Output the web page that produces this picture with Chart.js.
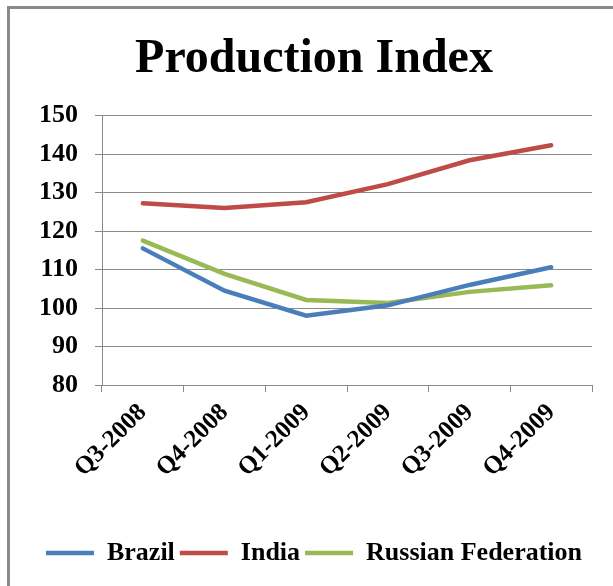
<!DOCTYPE html>
<html>
<head>
<meta charset="utf-8">
<script src="https://cdn.jsdelivr.net/npm/chart.js@4"></script>
<style>
  html, body { margin: 0; padding: 0; background: #fff; }
  #wrap { position: relative; width: 613px; height: 586px; overflow: hidden; }
  #frame { position: absolute; left: 7px; top: 6px; width: 700px; height: 700px;
           border-left: 3px solid #8a8a8a; border-top: 3px solid #8a8a8a; }
  #chart { position: absolute; left: 0; top: 0; }
</style>
</head>
<body>
<div id="wrap">
  <div id="frame"></div>
  <canvas id="chart" width="613" height="586"></canvas>
</div>
<script>
const quarters = ['Q3-2008', 'Q4-2008', 'Q1-2009', 'Q2-2009', 'Q3-2009', 'Q4-2009'];
const brazil = [115.5, 104.5, 98, 100.7, 106, 110.6];
const india = [127.2, 126, 127.5, 132.2, 138.4, 142.3];
const russia = [117.5, 108.9, 102.1, 101.3, 104.2, 105.9];

const serif = '"Liberation Serif", "Times New Roman", serif';
const gridColor = '#8a8a8a';

function series(label, values, color) {
  return {
    label: label,
    data: values,
    borderColor: color,
    backgroundColor: color,
    borderWidth: 4.5,
    borderCapStyle: 'round',
    pointRadius: 0,
    tension: 0
  };
}

const ctx = document.getElementById('chart').getContext('2d');
const chart = new Chart(ctx, {
  type: 'line',
  data: {
    labels: quarters,
    datasets: [
      series('Brazil', brazil, '#4a7ebb'),
      series('India', india, '#be4b48'),
      series('Russian Federation', russia, '#98b954')
    ]
  },
  options: {
    responsive: false,
    animation: false,
    layout: { padding: { left: 36, right: 21, top: 31, bottom: 10 } },
    plugins: {
      title: {
        display: true,
        text: 'Production Index',
        color: '#000',
        font: { family: serif, size: 48, weight: 'bold' },
        padding: { top: 0, bottom: 27 }
      },
      legend: {
        position: 'bottom',
        labels: {
          color: '#000',
          font: { family: serif, size: 26, weight: 'bold' },
          usePointStyle: true,
          pointStyle: 'line',
          pointStyleWidth: 48,
          padding: 5
        }
      },
      tooltip: { enabled: false }
    },
    scales: {
      x: {
        offset: true,
        grid: { display: true, drawOnChartArea: false, drawTicks: true, tickLength: 7, color: gridColor, offset: true },
        border: { color: gridColor, width: 1 },
        ticks: {
          color: '#000',
          font: { family: serif, size: 25, weight: 'bold' },
          maxRotation: 45,
          minRotation: 45,
          padding: 6
        },
        afterFit: function (scale) { scale.height = 150; }
      },
      y: {
        min: 80,
        max: 150,
        grid: { color: gridColor, lineWidth: 1, tickLength: 7 },
        border: { color: gridColor, width: 1 },
        ticks: {
          stepSize: 10,
          autoSkip: false,
          color: '#000',
          font: { family: serif, size: 26, weight: 'bold' },
          padding: 17
        },
        afterFit: function (scale) { scale.width = 66; }
      }
    }
  }
});
</script>
</body>
</html>
